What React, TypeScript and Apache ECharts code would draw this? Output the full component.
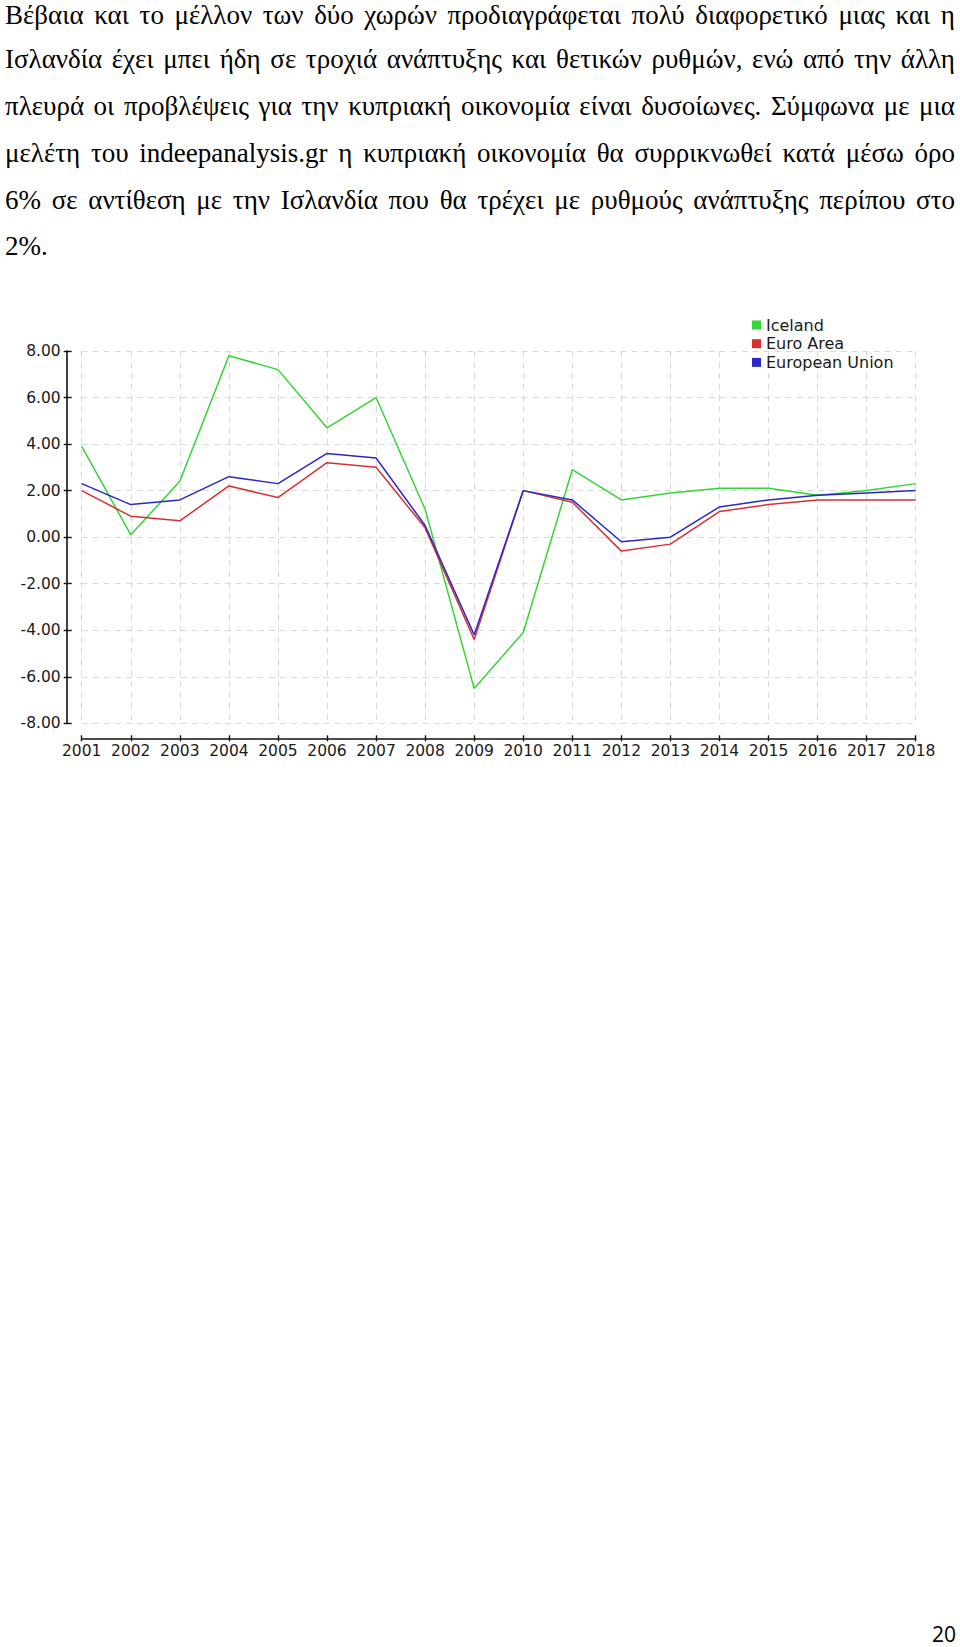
import React, { useEffect, useRef } from "react";
import * as echarts from "echarts";

const years = ["2001","2002","2003","2004","2005","2006","2007","2008","2009","2010","2011","2012","2013","2014","2015","2016","2017","2018"];
const seriesNames = ["Iceland", "Euro Area", "European Union"];
const iceland = [3.9, 0.1, 2.4, 7.8, 7.2, 4.7, 6.0, 1.2, -6.5, -4.1, 2.9, 1.6, 1.9, 2.1, 2.1, 1.8, 2.0, 2.3];
const euroArea = [2.0, 0.9, 0.7, 2.2, 1.7, 3.2, 3.0, 0.4, -4.4, 2.0, 1.5, -0.6, -0.3, 1.1, 1.4, 1.6, 1.6, 1.6];
const europeanUnion = [2.3, 1.4, 1.6, 2.6, 2.3, 3.6, 3.4, 0.5, -4.2, 2.0, 1.6, -0.2, 0.0, 1.3, 1.6, 1.8, 1.9, 2.0];
const yMin = -8;
const yMax = 8;
const yStep = 2;

const paragraphLines = [
  "Βέβαια και το μέλλον των δύο χωρών προδιαγράφεται πολύ διαφορετικό μιας και η",
  "Ισλανδία έχει μπει ήδη σε τροχιά ανάπτυξης και θετικών ρυθμών, ενώ από την άλλη",
  "πλευρά οι προβλέψεις για την κυπριακή οικονομία είναι δυσοίωνες. Σύμφωνα με μια",
  "μελέτη του indeepanalysis.gr η κυπριακή οικονομία θα συρρικνωθεί κατά μέσω όρο",
  "6% σε αντίθεση με την Ισλανδία που θα τρέχει με ρυθμούς ανάπτυξης περίπου στο",
];
const lastLine = "2%.";
const pageNumber = "20";

const colors = ["#36d436", "#d83030", "#2828c8"];
const FONT = "DejaVu Sans";

export default function App() {
  const ref = useRef<HTMLDivElement>(null);

  useEffect(() => {
    if (!ref.current) return;
    const chart = echarts.init(ref.current, undefined, { renderer: "svg" });
    const gridPos = { left: 81.7, right: 44.3, top: 351, bottom: 923.7 };
    const dashed = { color: "#d9d9d9", width: 1, type: [6, 5] as any };
    chart.setOption({
      animation: false,
      grid: [
        { ...gridPos, containLabel: false },
        { ...gridPos, containLabel: false },
      ],
      legend: {
        data: seriesNames,
        orient: "vertical",
        left: 752,
        top: 317,
        padding: 0,
        itemWidth: 9,
        itemHeight: 9,
        itemGap: 2.7,
        icon: "rect",
        textStyle: { fontFamily: FONT, fontSize: 16, lineHeight: 16, color: "#1a1a1a" },
      },
      xAxis: [
        {
          type: "category",
          gridIndex: 0,
          data: years,
          boundaryGap: false,
          position: "bottom",
          offset: 15,
          axisLine: { show: true, onZero: false, lineStyle: { color: "#111", width: 1.6 } },
          axisTick: { show: true, alignWithLabel: true, length: 3, lineStyle: { color: "#111", width: 1.4 } },
          axisLabel: { interval: 0, margin: 5, fontFamily: FONT, fontSize: 15.5, color: "#1a1a1a" },
          splitLine: { show: true, interval: 0, lineStyle: dashed },
        },
        {
          type: "category",
          gridIndex: 1,
          data: years,
          boundaryGap: false,
          position: "bottom",
          offset: 15,
          axisLine: { show: false, onZero: false },
          axisTick: { show: true, inside: true, length: 3, lineStyle: { color: "#111", width: 1.4 } },
          axisLabel: { show: false },
          splitLine: { show: false },
        },
      ],
      yAxis: [
        {
          type: "value",
          gridIndex: 0,
          min: yMin,
          max: yMax,
          interval: yStep,
          position: "left",
          offset: 15,
          axisLine: { show: true, onZero: false, lineStyle: { color: "#111", width: 1.6 } },
          axisTick: { show: true, length: 3, lineStyle: { color: "#111", width: 1.4 } },
          axisLabel: {
            margin: 6,
            fontFamily: FONT,
            fontSize: 15.5,
            color: "#1a1a1a",
            formatter: (v: number) => v.toFixed(2),
          },
          splitLine: { show: true, lineStyle: dashed },
        },
        {
          type: "value",
          gridIndex: 1,
          min: yMin,
          max: yMax,
          interval: yStep,
          position: "left",
          offset: 15,
          axisLine: { show: false, onZero: false },
          axisTick: { show: true, inside: true, length: 5, lineStyle: { color: "#111", width: 1.4 } },
          axisLabel: { show: false },
          splitLine: { show: false },
        },
      ],
      series: [
        { name: seriesNames[0], data: iceland },
        { name: seriesNames[1], data: euroArea },
        { name: seriesNames[2], data: europeanUnion },
      ].map((s, i) => ({
        ...s,
        type: "line",
        xAxisIndex: 0,
        yAxisIndex: 0,
        symbol: "none",
        color: colors[i],
        lineStyle: { width: 1.5, color: colors[i] },
      })),
    });
    return () => chart.dispose();
  }, []);

  const lineStyle: React.CSSProperties = {
    textAlign: "justify",
    textAlignLast: "justify",
    height: 46.9,
    lineHeight: "46.9px",
    whiteSpace: "normal",
  };

  return (
    <div style={{ position: "absolute", left: 0, top: 0, width: 960, height: 1647, background: "#fff", overflow: "hidden" }}>
      <div ref={ref} style={{ position: "absolute", left: 0, top: 0, width: 960, height: 1647 }} />
      <div
        style={{
          position: "absolute",
          left: 5,
          top: -11,
          width: 950,
          fontFamily: "'Liberation Serif', 'Times New Roman', serif",
          fontSize: 27,
          color: "#000",
        }}
      >
        {paragraphLines.map((l, i) => (
          <div key={i} style={i === 0 ? { ...lineStyle, position: "relative", top: 3 } : lineStyle}>{l}</div>
        ))}
        <div style={{ height: 46.9, lineHeight: "46.9px" }}>{lastLine}</div>
      </div>
      <div
        style={{
          position: "absolute",
          right: 4,
          top: 1624,
          fontFamily: "'Open Sans', 'Liberation Sans', sans-serif",
          fontSize: 21,
          lineHeight: "21px",
          color: "#000",
        }}
      >
        {pageNumber}
      </div>
    </div>
  );
}
